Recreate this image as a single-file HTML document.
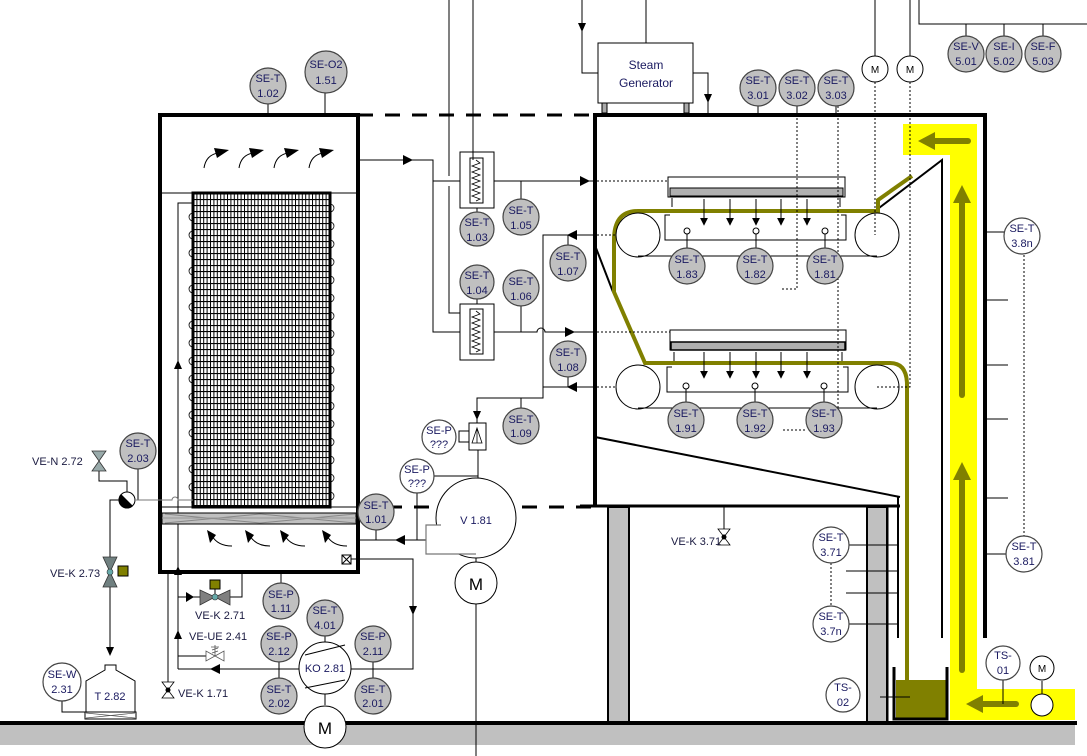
<!DOCTYPE html>
<html><head><meta charset="utf-8"><style>
html,body{margin:0;padding:0;background:#fff;}
svg{display:block;font-family:"Liberation Sans","DejaVu Sans",sans-serif;}
.t{font-size:11px;fill:#1a1a60;text-anchor:middle;}
.l{font-size:11px;fill:#1a1a40;}
</style></head><body>
<svg width="1087" height="756" viewBox="0 0 1087 756" xmlns="http://www.w3.org/2000/svg">
<defs>
<pattern id="grid" x="193" y="193" width="3.4" height="6" patternUnits="userSpaceOnUse">
<rect width="3.4" height="6" fill="#fff"/>
<line x1="0.5" y1="0" x2="0.5" y2="6" stroke="#000" stroke-width="1"/>
<line x1="0" y1="0.5" x2="3.4" y2="0.5" stroke="#000" stroke-width="1.2"/>
</pattern>
<marker id="a" viewBox="0 0 10 10" refX="9" refY="5" markerWidth="8" markerHeight="8" orient="auto" markerUnits="userSpaceOnUse"><path d="M0,0 L10,5 L0,10 Z" fill="#000"/></marker>
</defs>

<rect x="0" y="724" width="1075" height="21" fill="#c0c0c0"/>
<line x1="0" y1="723" x2="1077" y2="723" stroke="#000" stroke-width="4"/>

<path d="M903,124 H977 V689 H1075 V720 H950 V155 H903 Z" fill="#ffff00"/>
<g stroke="#808000" stroke-width="6" fill="none" stroke-linecap="round">
<line x1="968" y1="141" x2="930" y2="141"/>
<line x1="962" y1="395" x2="962" y2="200"/>
<line x1="962" y1="670" x2="962" y2="475"/>
<line x1="1016" y1="704" x2="980" y2="704"/>
</g>
<g fill="#808000">
<path d="M918,141 L935,132 L935,150 Z"/>
<path d="M962,185 L953,203 L971,203 Z"/>
<path d="M962,462 L953,480 L971,480 Z"/>
<path d="M966,704 L983,695 L983,713 Z"/>
</g>

<rect x="160" y="115" width="198" height="457" fill="none" stroke="#000" stroke-width="4"/>
<line x1="162" y1="193" x2="356" y2="193" stroke="#000" stroke-width="1"/>
<rect x="193" y="193" width="137" height="314" fill="url(#grid)" stroke="#000" stroke-width="3"/>
<polyline points="193,203 178,203 178,669" fill="none" stroke="#000" stroke-width="1"/>
<path d="M193,213 a4,4 0 0 0 0,8 M193,231 a4,4 0 0 0 0,8 M193,249 a4,4 0 0 0 0,8 M193,267 a4,4 0 0 0 0,8 M193,285 a4,4 0 0 0 0,8 M193,303 a4,4 0 0 0 0,8 M193,321 a4,4 0 0 0 0,8 M193,339 a4,4 0 0 0 0,8 M193,357 a4,4 0 0 0 0,8 M193,375 a4,4 0 0 0 0,8 M193,393 a4,4 0 0 0 0,8 M193,411 a4,4 0 0 0 0,8 M193,429 a4,4 0 0 0 0,8 M193,447 a4,4 0 0 0 0,8 M193,465 a4,4 0 0 0 0,8 M193,483 a4,4 0 0 0 0,8 M193,499 a4,4 0 0 0 0,6" fill="none" stroke="#000" stroke-width="0.8"/>
<path d="M330,204 a4,4 0 0 1 0,8 M330,222 a4,4 0 0 1 0,8 M330,240 a4,4 0 0 1 0,8 M330,258 a4,4 0 0 1 0,8 M330,276 a4,4 0 0 1 0,8 M330,294 a4,4 0 0 1 0,8 M330,312 a4,4 0 0 1 0,8 M330,330 a4,4 0 0 1 0,8 M330,348 a4,4 0 0 1 0,8 M330,366 a4,4 0 0 1 0,8 M330,384 a4,4 0 0 1 0,8 M330,402 a4,4 0 0 1 0,8 M330,420 a4,4 0 0 1 0,8 M330,438 a4,4 0 0 1 0,8 M330,456 a4,4 0 0 1 0,8 M330,474 a4,4 0 0 1 0,8 M330,492 a4,4 0 0 1 0,8" fill="none" stroke="#000" stroke-width="0.8"/>
<line x1="162" y1="507" x2="356" y2="507" stroke="#000" stroke-width="1"/>
<rect x="162" y="513" width="194" height="11" fill="#c0c0c0" stroke="#000" stroke-width="1"/>
<path d="M165,514 L260,523 M165,523 L260,514 M260,514 L355,523 M260,523 L355,514" stroke="#888" stroke-width="1"/>
<line x1="162" y1="518" x2="356" y2="518" stroke="#999" stroke-width="1"/>
<g fill="none" stroke="#000" stroke-width="1">
<path d="M204,168 Q206,155 218,153"/><path d="M239,168 Q241,155 253,153"/><path d="M274,168 Q276,155 288,153"/><path d="M309,168 Q311,155 323,153"/>
<path d="M232,546 Q218,546 212,536"/><path d="M270,546 Q256,546 250,536"/><path d="M305,546 Q291,546 285,536"/><path d="M347,546 Q333,546 327,536"/>
</g>
<g fill="#000">
<path d="M229,150 L214,148 L217,158 Z"/><path d="M264,150 L249,148 L252,158 Z"/><path d="M299,150 L284,148 L287,158 Z"/><path d="M334,150 L319,148 L322,158 Z"/>
<path d="M207,530 L210,543 L216,535 Z"/><path d="M245,530 L248,543 L254,535 Z"/><path d="M280,530 L283,543 L289,535 Z"/><path d="M322,530 L325,543 L331,535 Z"/>
</g>
<rect x="342" y="555" width="9" height="9" fill="#fff" stroke="#000" stroke-width="1"/>
<path d="M342,555 L351,564 M351,555 L342,564" stroke="#000" stroke-width="1"/>
<path d="M178,566 L174,575 L182,575 Z M178,630 L174,639 L182,639 Z M178,360 L174,369 L182,369 Z" fill="#000"/>

<line x1="358" y1="115" x2="595" y2="115" stroke="#000" stroke-width="3" stroke-dasharray="15,12"/>
<line x1="360" y1="507" x2="595" y2="507" stroke="#000" stroke-width="3" stroke-dasharray="15,12"/>

<polyline points="595,505 595,115 985,115 985,638" fill="none" stroke="#000" stroke-width="4"/>
<line x1="580" y1="506" x2="900" y2="506" stroke="#000" stroke-width="3"/>
<line x1="595" y1="437" x2="900" y2="497" stroke="#000" stroke-width="2"/>
<line x1="596" y1="248" x2="613" y2="292" stroke="#000" stroke-width="2"/>
<g stroke="#000" stroke-width="1"><line x1="985" y1="232" x2="1007" y2="232"/><line x1="985" y1="300" x2="1008" y2="300"/><line x1="985" y1="365" x2="1008" y2="365"/><line x1="985" y1="419" x2="1008" y2="419"/><line x1="985" y1="498" x2="1008" y2="498"/><line x1="985" y1="554" x2="1008" y2="554"/></g>
<line x1="1024" y1="255" x2="1024" y2="536" stroke="#000" stroke-width="1" stroke-dasharray="2,2"/>
<polyline points="875,211 942,160 942,638" fill="none" stroke="#000" stroke-width="2"/>
<line x1="898" y1="497" x2="898" y2="638" stroke="#000" stroke-width="2"/>
<rect x="608" y="507" width="21" height="215" fill="#c0c0c0" stroke="#000" stroke-width="2"/>
<rect x="867" y="507" width="20" height="215" fill="#c0c0c0" stroke="#000" stroke-width="2"/>
<line x1="888" y1="507" x2="888" y2="722" stroke="#000" stroke-width="1"/>
<rect x="896" y="680" width="50" height="38" fill="#808000"/>
<polyline points="894,667 894,719 947,719 947,667" fill="none" stroke="#000" stroke-width="3"/>
<line x1="880" y1="697" x2="910" y2="697" stroke="#000" stroke-width="1"/>
<path d="M912,176 L878,200 L878,211 H638 Q614,211 614,240 V292 L645,363 H890 Q907,363 907,385 V682" fill="none" stroke="#808000" stroke-width="4"/>

<rect x="668" y="177" width="177" height="20" fill="#fff" stroke="#000" stroke-width="1"/>
<rect x="670" y="188" width="173" height="8" fill="#b0b0b0" stroke="#000" stroke-width="1"/>
<line x1="672" y1="198" x2="672" y2="207" stroke="#000"/><line x1="840" y1="198" x2="840" y2="207" stroke="#000"/>
<g stroke="#000" stroke-width="1" marker-end="url(#a)"><line x1="704" y1="199" x2="704" y2="225"/><line x1="730" y1="199" x2="730" y2="225"/><line x1="756" y1="199" x2="756" y2="225"/><line x1="781" y1="199" x2="781" y2="225"/><line x1="807" y1="199" x2="807" y2="225"/></g>
<path d="M670,215 H665 V240 H846 V215 H841" fill="none" stroke="#000" stroke-width="1"/>
<circle cx="638" cy="235" r="22" fill="none" stroke="#000"/><circle cx="877" cy="235" r="22" fill="none" stroke="#000"/>
<line x1="638" y1="256" x2="877" y2="256" stroke="#000"/>
<rect x="670" y="330" width="176" height="20" fill="#fff" stroke="#000" stroke-width="1"/>
<rect x="671" y="342" width="174" height="8" fill="#b0b0b0" stroke="#000" stroke-width="1.5"/>
<line x1="674" y1="352" x2="674" y2="361" stroke="#000"/><line x1="842" y1="352" x2="842" y2="361" stroke="#000"/>
<g stroke="#000" stroke-width="1" marker-end="url(#a)"><line x1="704" y1="352" x2="704" y2="378"/><line x1="730" y1="352" x2="730" y2="378"/><line x1="756" y1="352" x2="756" y2="378"/><line x1="781" y1="352" x2="781" y2="378"/><line x1="807" y1="352" x2="807" y2="378"/></g>
<path d="M672,367 H667 V392 H848 V367 H843" fill="none" stroke="#000" stroke-width="1"/>
<circle cx="638" cy="387" r="22" fill="none" stroke="#000"/><circle cx="877" cy="387" r="22" fill="none" stroke="#000"/>
<line x1="638" y1="408" x2="877" y2="408" stroke="#000"/>

<g stroke="#000" stroke-width="1" stroke-dasharray="2,2" fill="none">
<line x1="597" y1="181" x2="668" y2="181"/><line x1="597" y1="235" x2="616" y2="235"/>
<line x1="597" y1="332" x2="670" y2="332"/><line x1="597" y1="387" x2="616" y2="387"/>
<polyline points="797,106 797,289 782,289"/>
<line x1="838" y1="106" x2="838" y2="408"/>
<polyline points="875,82 875,235"/>
<polyline points="910,82 910,387 877,387"/>
<line x1="783" y1="430" x2="806" y2="430"/>
</g>
<g stroke="#000" fill="#fff" stroke-width="1">
<line x1="687" y1="234" x2="687" y2="248"/><circle cx="687" cy="231" r="3"/>
<line x1="756" y1="234" x2="756" y2="248"/><circle cx="756" cy="231" r="3"/>
<line x1="825" y1="234" x2="825" y2="248"/><circle cx="825" cy="231" r="3"/>
<line x1="686" y1="389" x2="686" y2="402"/><circle cx="686" cy="386" r="3"/>
<line x1="755" y1="389" x2="755" y2="402"/><circle cx="755" cy="386" r="3"/>
<line x1="824" y1="389" x2="824" y2="402"/><circle cx="824" cy="386" r="3"/>
</g>

<g stroke="#000" stroke-width="1" fill="none">
<line x1="646" y1="0" x2="646" y2="43"/>
<polyline points="582,0 582,73 598,73"/>
<polyline points="693,73 708,73 708,113"/>
<line x1="875" y1="0" x2="875" y2="56"/><line x1="910" y1="0" x2="910" y2="56"/>
<polyline points="919,0 919,24 1087,24"/>
<line x1="966" y1="24" x2="966" y2="36"/><line x1="1004" y1="24" x2="1004" y2="36"/><line x1="1043" y1="24" x2="1043" y2="36"/>
<line x1="758" y1="106" x2="758" y2="115"/><line x1="797" y1="106" x2="797" y2="115"/><line x1="836" y1="106" x2="836" y2="115"/>
<line x1="268" y1="104" x2="268" y2="115"/><line x1="325" y1="93" x2="325" y2="115"/>
</g>
<path d="M582,32 L578,23 L586,23 Z M708,103 L704,94 L712,94 Z" fill="#000"/>
<rect x="598" y="43" width="95" height="60" fill="#fff" stroke="#000"/>
<text x="646" y="69" class="t" style="font-size:12px">Steam</text>
<text x="646" y="87" class="t" style="font-size:12px">Generator</text>
<rect x="602" y="103" width="5" height="10" fill="#aaa" stroke="#000"/><rect x="684" y="103" width="5" height="10" fill="#aaa" stroke="#000"/>

<g stroke="#000" stroke-width="1" fill="none">
<polyline points="358,160 433,160 433,332 460,332"/>
<line x1="433" y1="181" x2="460" y2="181"/>
<polyline points="449,0 449,176"/><polyline points="449,186 449,313 470,313"/>
<line x1="473" y1="0" x2="473" y2="160"/>
<line x1="494" y1="181" x2="595" y2="181"/>
<line x1="521" y1="181" x2="521" y2="199"/>
<line x1="477" y1="208" x2="477" y2="212"/>
<line x1="477" y1="299" x2="477" y2="309"/>
<path d="M494,332 H537 a4,4 0 0 1 8,0 H595"/>
<line x1="521" y1="306" x2="521" y2="332"/>
<polyline points="595,235 543,235 543,398 477,398 477,423"/>
<line x1="543" y1="387" x2="595" y2="387"/>
<line x1="568" y1="235" x2="568" y2="245"/>
<line x1="568" y1="377" x2="568" y2="387"/>
<line x1="521" y1="398" x2="521" y2="408"/>
<line x1="478" y1="450" x2="478" y2="478"/>
<line x1="434" y1="476" x2="478" y2="476"/>
<line x1="417" y1="493" x2="417" y2="540"/>
<line x1="358" y1="540" x2="426" y2="540"/>
<line x1="376" y1="530" x2="376" y2="540"/>
<polyline points="351,559 413,559 413,669 178,669"/>
<line x1="476" y1="600" x2="476" y2="756"/>
<line x1="476" y1="558" x2="476" y2="562"/>
</g>
<g fill="#000">
<path d="M413,160 L403,155 L403,165 Z"/>
<path d="M590,181 L580,176 L580,186 Z"/>
<path d="M575,332 L565,327 L565,337 Z"/>
<path d="M567,235 L577,230 L577,240 Z"/>
<path d="M567,387 L577,382 L577,392 Z"/>
<path d="M477,420 L473,411 L481,411 Z"/>
<path d="M395,540 L405,535 L405,545 Z"/>
<path d="M413,615 L409,606 L417,606 Z"/>
<path d="M210,669 L220,664 L220,674 Z"/>
</g>
<rect x="460" y="152" width="34" height="56" fill="#fff" stroke="#000"/>
<rect x="470" y="158" width="13" height="45" fill="#fff" stroke="#000"/>
<polyline points="476,160 480,163 472,166 480,169 472,172 480,175 472,178 480,181 472,184 480,187 472,190 480,193 472,196 480,199 476,201" fill="none" stroke="#000" stroke-width="0.8"/>
<rect x="460" y="304" width="34" height="56" fill="#fff" stroke="#000"/>
<rect x="470" y="309" width="13" height="45" fill="#fff" stroke="#000"/>
<polyline points="476,311 480,314 472,317 480,320 472,323 480,326 472,329 480,332 472,335 480,338 472,341 480,344 472,347 480,350 476,352" fill="none" stroke="#000" stroke-width="0.8"/>
<line x1="473" y1="152" x2="473" y2="160" stroke="#000"/>
<rect x="469" y="423" width="17" height="27" fill="#fff" stroke="#000"/>
<rect x="459" y="431" width="10" height="11" fill="#fff" stroke="#000"/>
<path d="M477,428 L472,443 L482,443 Z M477,428 L477,443" fill="#fff" stroke="#000" stroke-width="0.8"/>
<!-- fan V 1.81 -->
<circle cx="476" cy="518" r="40" fill="#fff" stroke="#000"/>
<path d="M441,525 H426 V554 H476" fill="#fff" stroke="#777" stroke-width="1.2"/>
<rect x="427" y="526" width="20" height="27" fill="#fff"/>
<text x="476" y="524" class="t">V 1.81</text>
<circle cx="476" cy="583" r="21" fill="#fff" stroke="#000"/><text x="476" y="590" class="t" style="font-size:17px;fill:#000">M</text>

<g stroke="#000" stroke-width="1" fill="none">
<line x1="281" y1="572" x2="281" y2="583"/>
<line x1="279" y1="661" x2="279" y2="679"/><line x1="373" y1="661" x2="373" y2="679"/>
<line x1="325" y1="636" x2="325" y2="642"/><line x1="325" y1="694" x2="325" y2="705"/>
<polyline points="178,597 205,597"/>
<polyline points="228,597 242,597 242,572"/>
<line x1="178" y1="656" x2="206" y2="656"/>
<line x1="168" y1="572" x2="168" y2="683"/>
</g>
<circle cx="325" cy="668" r="26" fill="#fff" stroke="#000"/>
<path d="M305,655 L345,645 M305,688 L345,680" stroke="#000"/>
<text x="325" y="672" class="t">KO 2.81</text>
<circle cx="325" cy="727" r="21" fill="#fff" stroke="#000"/><text x="325" y="734" class="t" style="font-size:17px;fill:#000">M</text>
<path d="M194,597 L186,592 L186,602 Z" fill="#000"/>
<path d="M200,590 L200,605 L215,597 Z M230,590 L230,605 L215,597 Z" fill="#808080" stroke="#333" stroke-width="0.8"/>
<circle cx="215" cy="597" r="3" fill="#6aa" stroke="#333" stroke-width="0.6"/>
<line x1="215" y1="587" x2="215" y2="594" stroke="#000"/>
<rect x="210" y="580" width="10" height="9" fill="#808000" stroke="#000"/>
<text x="195" y="619" class="l">VE-K 2.71</text>
<path d="M206,651 L206,661 L215,656 Z M224,651 L224,661 L215,656 Z" fill="#fff" stroke="#555" stroke-width="0.8"/>
<path d="M215,656 V645 M211,647 H219 M212,650 L218,648 M212,653 L218,651" stroke="#555" stroke-width="0.8"/>
<text x="189" y="640" class="l">VE-UE 2.41</text>
<path d="M162,682 L174,682 L168,690 Z M162,698 L174,698 L168,690 Z" fill="#fff" stroke="#000" stroke-width="0.8"/>
<circle cx="168" cy="690" r="2.5" fill="#000"/>
<text x="178" y="697" class="l">VE-K 1.71</text>

<g stroke="#000" stroke-width="1" fill="none">
<polyline points="99,470 99,481 127,481 127,492"/>
<line x1="138" y1="469" x2="138" y2="500"/>
<path d="M136,500 H172 a3,3 0 0 1 6,0 H193" stroke="#777"/>
<polyline points="119,500 110,500 110,560"/>
<line x1="110" y1="585" x2="110" y2="650"/>
<polyline points="62,701 62,712 86,712"/>
</g>
<path d="M110,656 L106,647 L114,647 Z" fill="#000"/>
<path d="M92,451 L106,451 L99,461 Z M92,471 L106,471 L99,461 Z" fill="#9aa" stroke="#333" stroke-width="0.8"/>
<text x="32" y="465" class="l">VE-N 2.72</text>
<circle cx="127" cy="500" r="8" fill="#fff" stroke="#000"/>
<path d="M121,494 A8,8 0 0 0 133,506 Z" fill="#000"/>
<path d="M103,557 L117,557 L110,572 Z M103,587 L117,587 L110,572 Z" fill="#708080" stroke="#333" stroke-width="0.8"/>
<circle cx="110" cy="572" r="3" fill="#6aa" stroke="#333" stroke-width="0.6"/>
<rect x="118" y="566" width="10" height="10" fill="#808000" stroke="#000"/>
<text x="50" y="577" class="l">VE-K 2.73</text>
<path d="M105,665 H116 V670 L135,681 V712 H86 V681 L105,670 Z" fill="#fff" stroke="#000"/>
<rect x="85" y="712" width="51" height="7" fill="#fff" stroke="#000"/>
<path d="M86,713 L135,718 M86,718 L135,713" stroke="#555" stroke-width="0.7"/>
<text x="110" y="700" class="t">T 2.82</text>

<line x1="724" y1="507" x2="724" y2="530" stroke="#000"/>
<path d="M718,529 L730,529 L724,537 Z M718,545 L730,545 L724,537 Z" fill="#fff" stroke="#000" stroke-width="0.8"/>
<circle cx="724" cy="537" r="2.5" fill="#000"/>
<text x="671" y="545" class="l">VE-K 3.71</text>
<g stroke="#000" stroke-width="1">
<line x1="849" y1="545" x2="897" y2="545"/><line x1="846" y1="571" x2="897" y2="571"/><line x1="846" y1="593" x2="897" y2="593"/><line x1="849" y1="624" x2="897" y2="624"/>
<line x1="831" y1="563" x2="831" y2="606" stroke-dasharray="2,2"/>
<line x1="1003" y1="680" x2="1003" y2="704"/>
<line x1="1042" y1="681" x2="1042" y2="715"/>
</g>
<circle cx="1042" cy="705" r="11" fill="#fff" stroke="#000"/>
<circle cx="1042" cy="668" r="12" fill="#fff" stroke="#000"/><text x="1042" y="672" class="t" style="font-size:10px;fill:#000">M</text>

<circle cx="875" cy="69" r="13" fill="#fff" stroke="#000"/><text x="875" y="73" class="t" style="font-size:10px;fill:#000">M</text>
<circle cx="910" cy="69" r="13" fill="#fff" stroke="#000"/><text x="910" y="73" class="t" style="font-size:10px;fill:#000">M</text>

<g stroke="#444" stroke-width="1.2">
<g fill="#c0c0c0">
<circle cx="268" cy="86" r="18"/><circle cx="326" cy="72" r="21"/>
<circle cx="758" cy="88" r="18"/><circle cx="797" cy="88" r="18"/><circle cx="836" cy="88" r="18"/>
<circle cx="966" cy="54" r="18"/><circle cx="1004" cy="54" r="18"/><circle cx="1043" cy="54" r="18"/>
<circle cx="477" cy="229" r="17"/><circle cx="521" cy="217" r="18"/>
<circle cx="477" cy="282" r="17"/><circle cx="521" cy="288" r="18"/>
<circle cx="568" cy="263" r="18"/><circle cx="568" cy="359" r="18"/><circle cx="521" cy="426" r="18"/>
<circle cx="687" cy="266" r="18"/><circle cx="755" cy="266" r="18"/><circle cx="825" cy="266" r="18"/>
<circle cx="686" cy="420" r="18"/><circle cx="755" cy="420" r="18"/><circle cx="824" cy="420" r="18"/>
<circle cx="138" cy="451" r="18"/><circle cx="376" cy="512" r="18"/>
<circle cx="281" cy="601" r="18"/><circle cx="325" cy="618" r="18"/>
<circle cx="279" cy="644" r="18"/><circle cx="279" cy="696" r="18"/>
<circle cx="373" cy="644" r="18"/><circle cx="373" cy="696" r="18"/>
</g>
<g fill="#fff">
<circle cx="439" cy="437" r="17"/><circle cx="417" cy="476" r="17"/>
<circle cx="1022" cy="236" r="18"/><circle cx="1024" cy="554" r="18"/>
<circle cx="831" cy="545" r="18"/><circle cx="831" cy="624" r="18"/>
<circle cx="1003" cy="663" r="17"/><circle cx="843" cy="695" r="17"/>
<circle cx="62" cy="682" r="19"/>
</g>
</g>
<g>
<text x="268" y="82" class="t">SE-T</text><text x="268" y="97" class="t">1.02</text>
<text x="326" y="68" class="t">SE-O2</text><text x="326" y="84" class="t">1.51</text>
<text x="758" y="84" class="t">SE-T</text><text x="758" y="99" class="t">3.01</text>
<text x="797" y="84" class="t">SE-T</text><text x="797" y="99" class="t">3.02</text>
<text x="836" y="84" class="t">SE-T</text><text x="836" y="99" class="t">3.03</text>
<text x="966" y="50" class="t">SE-V</text><text x="966" y="65" class="t">5.01</text>
<text x="1004" y="50" class="t">SE-I</text><text x="1004" y="65" class="t">5.02</text>
<text x="1043" y="50" class="t">SE-F</text><text x="1043" y="65" class="t">5.03</text>
<text x="477" y="226" class="t">SE-T</text><text x="477" y="241" class="t">1.03</text>
<text x="521" y="214" class="t">SE-T</text><text x="521" y="229" class="t">1.05</text>
<text x="477" y="279" class="t">SE-T</text><text x="477" y="294" class="t">1.04</text>
<text x="521" y="285" class="t">SE-T</text><text x="521" y="300" class="t">1.06</text>
<text x="568" y="260" class="t">SE-T</text><text x="568" y="275" class="t">1.07</text>
<text x="568" y="356" class="t">SE-T</text><text x="568" y="371" class="t">1.08</text>
<text x="521" y="423" class="t">SE-T</text><text x="521" y="437" class="t">1.09</text>
<text x="687" y="263" class="t">SE-T</text><text x="687" y="278" class="t">1.83</text>
<text x="755" y="263" class="t">SE-T</text><text x="755" y="278" class="t">1.82</text>
<text x="825" y="263" class="t">SE-T</text><text x="825" y="278" class="t">1.81</text>
<text x="686" y="417" class="t">SE-T</text><text x="686" y="432" class="t">1.91</text>
<text x="755" y="417" class="t">SE-T</text><text x="755" y="432" class="t">1.92</text>
<text x="824" y="417" class="t">SE-T</text><text x="824" y="432" class="t">1.93</text>
<text x="138" y="447" class="t">SE-T</text><text x="138" y="462" class="t">2.03</text>
<text x="376" y="509" class="t">SE-T</text><text x="376" y="523" class="t">1.01</text>
<text x="281" y="598" class="t">SE-P</text><text x="281" y="612" class="t">1.11</text>
<text x="325" y="614" class="t">SE-T</text><text x="325" y="629" class="t">4.01</text>
<text x="279" y="640" class="t">SE-P</text><text x="279" y="655" class="t">2.12</text>
<text x="279" y="693" class="t">SE-T</text><text x="279" y="707" class="t">2.02</text>
<text x="373" y="640" class="t">SE-P</text><text x="373" y="655" class="t">2.11</text>
<text x="373" y="693" class="t">SE-T</text><text x="373" y="707" class="t">2.01</text>
<text x="439" y="434" class="t">SE-P</text><text x="439" y="448" class="t">???</text>
<text x="417" y="473" class="t">SE-P</text><text x="417" y="487" class="t">???</text>
<text x="1022" y="232" class="t">SE-T</text><text x="1022" y="247" class="t">3.8n</text>
<text x="1024" y="550" class="t">SE-T</text><text x="1024" y="565" class="t">3.81</text>
<text x="831" y="541" class="t">SE-T</text><text x="831" y="556" class="t">3.71</text>
<text x="831" y="620" class="t">SE-T</text><text x="831" y="635" class="t">3.7n</text>
<text x="1003" y="659" class="t">TS-</text><text x="1003" y="674" class="t">01</text>
<text x="843" y="691" class="t">TS-</text><text x="843" y="706" class="t">02</text>
<text x="62" y="678" class="t">SE-W</text><text x="62" y="693" class="t">2.31</text>
</g>
</svg>
</body></html>
